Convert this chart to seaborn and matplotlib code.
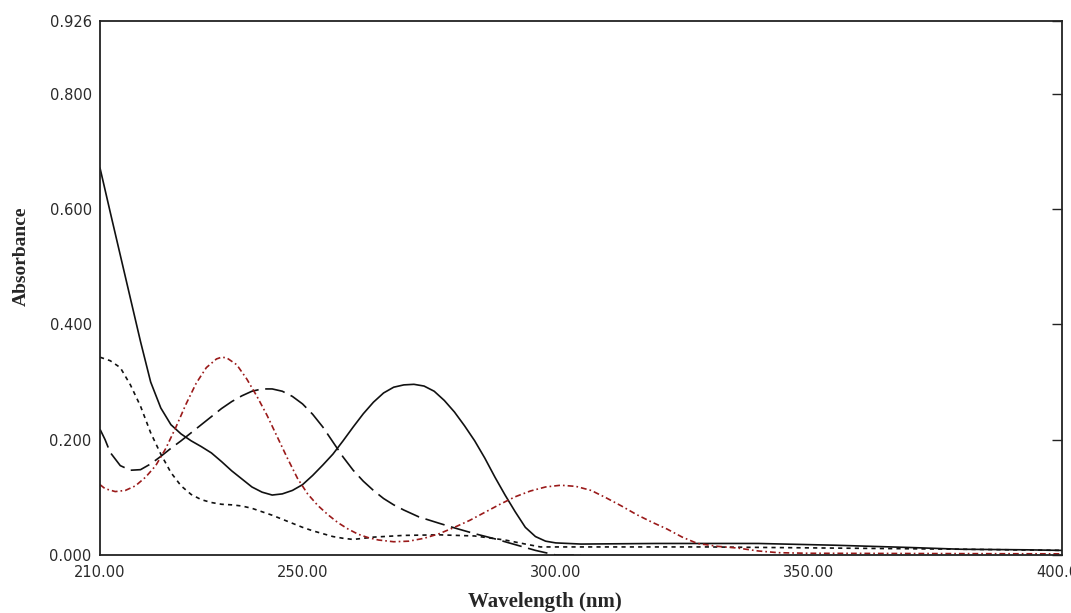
import numpy as np
import pandas as pd
import matplotlib
matplotlib.use("Agg")
import matplotlib.pyplot as plt
import seaborn as sns

# absorbance spectra, values
wl_solid = [210, 212, 214, 216, 218, 220, 222, 224, 226, 228, 230, 232, 234, 236, 238,
            240, 242, 244, 246, 248, 250, 252, 254, 256, 258, 260, 262, 264, 266, 268,
            270, 272, 274, 276, 278, 280, 282, 284, 286, 288, 290, 292, 294, 296, 298,
            300, 305, 320, 340, 355, 370, 380, 393, 400]
abs_solid = [0.671, 0.595, 0.52, 0.445, 0.37, 0.30, 0.255, 0.226, 0.21, 0.198, 0.188, 0.177,
             0.162, 0.146, 0.132, 0.118, 0.109, 0.104, 0.106, 0.112, 0.122, 0.138, 0.156,
             0.175, 0.198, 0.222, 0.245, 0.265, 0.281, 0.291, 0.295, 0.296, 0.293, 0.284,
             0.268, 0.248, 0.224, 0.198, 0.168, 0.135, 0.104, 0.075, 0.048, 0.032, 0.024,
             0.021, 0.019, 0.020, 0.020, 0.017, 0.013, 0.010, 0.009, 0.008]

wl_dash = [210, 211, 212, 214, 216, 218, 220, 222, 224, 226, 228, 230, 232, 234, 236, 238,
           240, 242, 244, 246, 248, 250, 252, 254, 256, 258, 260, 262, 264, 266, 268, 270,
           273, 277, 280, 284, 288, 292, 296, 300, 305]
abs_dash = [0.218, 0.20, 0.178, 0.155, 0.147, 0.148, 0.158, 0.171, 0.185, 0.198, 0.212,
            0.226, 0.240, 0.254, 0.266, 0.276, 0.284, 0.288, 0.288, 0.284, 0.275, 0.262,
            0.244, 0.222, 0.196, 0.170, 0.147, 0.128, 0.112, 0.098, 0.087, 0.078, 0.066,
            0.055, 0.047, 0.037, 0.028, 0.018, 0.008, 0.0, 0.0]

wl_dot = [210, 212, 214, 215, 216, 218, 220, 222, 224, 226, 228, 230, 232, 234, 236, 238,
          240, 242, 244, 246, 248, 250, 252, 254, 256, 258, 260, 264, 270, 277, 284, 290,
          294, 297, 300, 330, 355, 380, 400]
abs_dot = [0.343, 0.337, 0.325, 0.31, 0.295, 0.258, 0.212, 0.175, 0.143, 0.12, 0.105,
           0.096, 0.091, 0.088, 0.087, 0.085, 0.081, 0.075, 0.069, 0.062, 0.055, 0.048,
           0.042, 0.037, 0.032, 0.029, 0.027, 0.031, 0.034, 0.035, 0.033, 0.026, 0.019,
           0.014, 0.014, 0.014, 0.012, 0.010, 0.008]

wl_red = [210, 211, 213, 215, 217, 219, 221, 223, 225, 227, 229, 231, 233, 234, 235, 237,
          239, 241, 243, 245, 247, 249, 251, 253, 255, 257, 259, 261, 263, 265, 268, 271,
          274, 277, 280, 283, 286, 289, 292, 295, 298, 301, 304, 307, 310, 313, 316, 319,
          322, 325, 328, 332, 336, 340, 344, 350, 400]
abs_red = [0.122, 0.115, 0.110, 0.112, 0.120, 0.135, 0.155, 0.185, 0.222, 0.262, 0.298,
           0.325, 0.340, 0.343, 0.342, 0.330, 0.305, 0.275, 0.242, 0.205, 0.168, 0.133,
           0.106, 0.086, 0.070, 0.056, 0.045, 0.036, 0.030, 0.026, 0.023, 0.024, 0.029,
           0.037, 0.048, 0.060, 0.074, 0.088, 0.101, 0.111, 0.118, 0.121, 0.119, 0.112,
           0.099, 0.085, 0.070, 0.057, 0.045, 0.031, 0.020, 0.015, 0.012, 0.007, 0.004,
           0.003, 0.002]

y_ticks = [0.0, 0.2, 0.4, 0.6, 0.8, 0.926]
y_labels = ["0.000", "0.200", "0.400", "0.600", "0.800", "0.926"]
x_ticks = [210, 250, 300, 350, 400]
x_labels = ["210.00", "250.00", "300.00", "350.00", "400.00"]

frames = []
for name, wl, ab in [("solid", wl_solid, abs_solid), ("dash", wl_dash, abs_dash),
                     ("dot", wl_dot, abs_dot), ("red", wl_red, abs_red)]:
    frames.append(pd.DataFrame({"wl": wl, "abs": ab, "s": name}))
df = pd.concat(frames, ignore_index=True)

sns.set_style("white")

fig = plt.figure(figsize=(10.71, 6.13), dpi=100)
ax = fig.add_axes([0.0934, 0.0946, 0.8982, 0.8711])

palette = {"solid": "#111111", "dash": "#111111", "dot": "#111111", "red": "#9a1a1a"}
dashes = {"solid": "", "dash": (12, 4), "dot": (2.5, 2.5), "red": (3.5, 1.8, 1, 1.8)}
sns.lineplot(data=df, x="wl", y="abs", hue="s", style="s", palette=palette,
             dashes=dashes, estimator=None, sort=False, legend=False, lw=1.2, ax=ax)

ax.set_xlim(210, 400)
ax.set_ylim(0, 0.926)
ax.set_xticks(x_ticks)
ax.set_xticklabels(x_labels)
ax.set_yticks(y_ticks)
ax.set_yticklabels(y_labels)
ax.tick_params(direction="in", length=7, width=1, color="#222222",
               labelsize=10.5, labelcolor="#2a2a2a", right=True)
ax.tick_params(axis="x", pad=7)
ax.tick_params(axis="y", pad=6)
for t in ax.get_xticklabels() + ax.get_yticklabels():
    t.set_family("DejaVu Sans")

for sp in ax.spines.values():
    sp.set_color("#222222")
    sp.set_linewidth(1.3)
    sp.set_visible(True)

ax.set_xlabel("Wavelength (nm)", fontsize=15, fontweight="bold", family="Liberation Serif")
ax.set_ylabel("Absorbance", fontsize=14, fontweight="bold", family="Liberation Serif")
ax.xaxis.set_label_coords(0.462, -0.07)
ax.yaxis.set_label_coords(-0.073, 0.56)

fig.savefig("out.png", dpi=100)
